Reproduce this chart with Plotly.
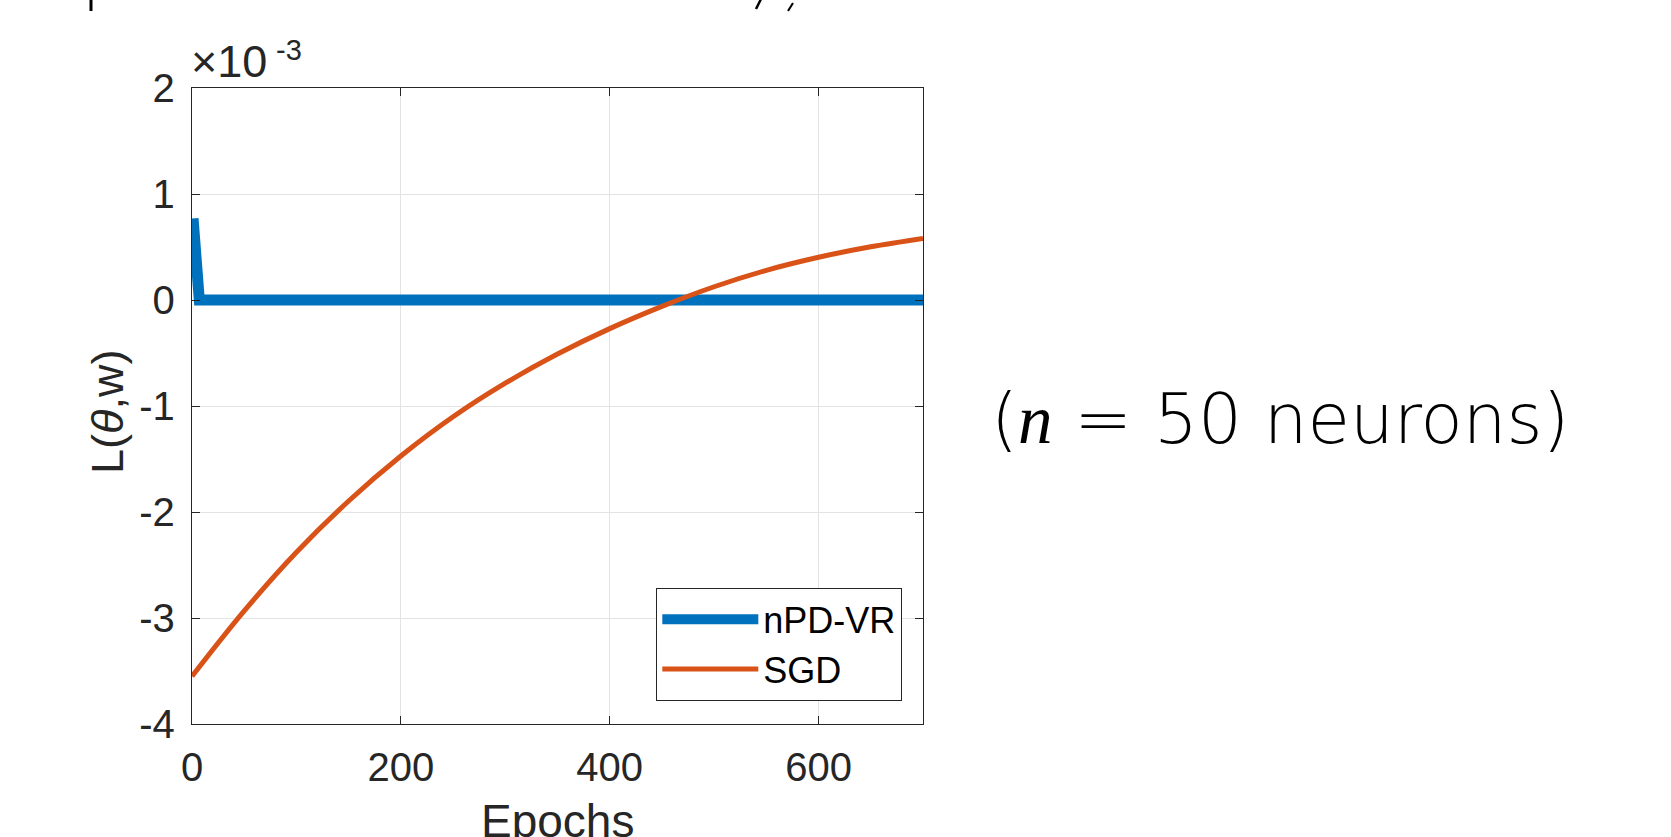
import plotly.graph_objects as go

# ---- data ----
npd_epochs = [1, 7, 700]
npd_loss = [0.77, 0.0, 0.0]

sgd_epochs = [0, 50, 100, 150, 200, 250, 300, 350, 400, 450, 500, 550, 600, 650, 700]
sgd_loss = [-3.55, -2.933, -2.38, -1.896, -1.472, -1.102, -0.785, -0.51, -0.27, -0.06,
            0.125, 0.28, 0.403, 0.502, 0.581]

x_ticks = [0, 200, 400, 600]
y_ticks = [-4, -3, -2, -1, 0, 1, 2]
y_tick_text = ["-4", "-3", "-2", "-1", "0", "1", "2"]

BLUE = "#0072BD"
ORANGE = "#D95319"
AXC = "#262626"
FONT = "Liberation Sans, Arial, Helvetica, sans-serif"

W, H = 1671, 837
L, R, T, B = 192, 748, 88, 113
pw, ph = W - L - R, H - T - B

def px(X):
    return (X - L) / pw

def py(Y):
    return (H - B - Y) / ph

fig = go.Figure()
fig.add_trace(go.Scatter(x=npd_epochs, y=npd_loss, mode="lines", name="nPD-VR",
                         line=dict(color=BLUE, width=11), cliponaxis=False))
fig.add_trace(go.Scatter(x=sgd_epochs, y=sgd_loss, mode="lines", name="SGD",
                         line=dict(color=ORANGE, width=5, shape="spline", smoothing=1.0)))

axis_common = dict(showline=True, linecolor=AXC, linewidth=1.3, mirror="ticks",
                   ticks="inside", ticklen=8, tickcolor=AXC, tickwidth=1.3,
                   showgrid=True, gridcolor="#e3e3e3", gridwidth=1, zeroline=False,
                   tickfont=dict(family=FONT, size=40, color=AXC))

fig.update_xaxes(range=[0, 700], tickvals=x_ticks, ticktext=[str(v) for v in x_ticks],
                 ticklabelstandoff=8, **axis_common)
fig.update_yaxes(range=[-4, 2], tickvals=y_ticks, ticktext=y_tick_text,
                 ticklabelstandoff=8, **axis_common)

annotations = [
    dict(text="×10", xref="paper", yref="paper", x=px(189), y=py(89),
         xanchor="left", yanchor="bottom", showarrow=False,
         font=dict(family=FONT, size=45, color=AXC)),
    dict(text="-3", xref="paper", yref="paper", x=px(274), y=py(68),
         xanchor="left", yanchor="bottom", showarrow=False,
         font=dict(family=FONT, size=29, color=AXC)),
    dict(text="Epochs", xref="paper", yref="paper", x=0.5, y=py(793),
         xanchor="center", yanchor="top", showarrow=False,
         font=dict(family=FONT, size=46, color=AXC)),
    dict(text="L(<i>θ</i>,w)", xref="paper", yref="paper", x=px(107), y=py(412),
         xanchor="center", yanchor="middle", textangle=-90, showarrow=False,
         font=dict(family=FONT, size=45, color=AXC)),
    dict(text='(<span style="font-family:\'Liberation Serif\';font-style:italic">n</span> = 50 neurons)',
         xref="paper", yref="paper", x=px(1280), y=py(419),
         xanchor="center", yanchor="middle", showarrow=False,
         font=dict(family="DejaVu Sans", size=69, color="black", weight=200)),
]

shapes = [
    dict(type="line", xref="paper", yref="paper", x0=px(91), x1=px(91), y0=py(-2), y1=py(11),
         line=dict(color="black", width=3)),
    dict(type="line", xref="paper", yref="paper", x0=px(756), x1=px(761), y0=py(9), y1=py(-1),
         line=dict(color="black", width=2.5)),
    dict(type="line", xref="paper", yref="paper", x0=px(788), x1=px(793), y0=py(11), y1=py(3),
         line=dict(color="black", width=2)),
]

fig.update_layout(
    width=W, height=H,
    margin=dict(l=L, r=R, t=T, b=B, autoexpand=False),
    paper_bgcolor="white", plot_bgcolor="white",
    showlegend=True,
    legend=dict(x=px(902), y=py(701), xanchor="right", yanchor="bottom",
                bgcolor="white", bordercolor=AXC, borderwidth=1.3,
                font=dict(family=FONT, size=36, color="black"),
                itemwidth=96, tracegroupgap=0),
    annotations=annotations,
    shapes=shapes,
)

fig.write_html("out.html", config={"displayModeBar": False},
               post_script="document.body.style.margin='0px';document.body.style.overflow='hidden';")
